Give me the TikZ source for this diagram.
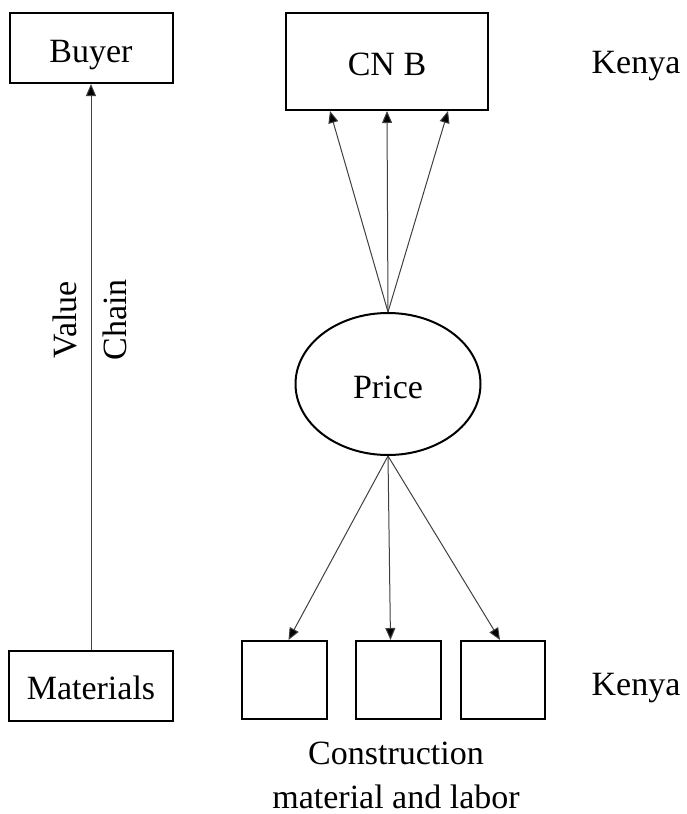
\documentclass[tikz,border=0pt]{standalone}
\usepackage{fontspec}
\setmainfont{Liberation Serif}
\usepackage{tikz}
\usetikzlibrary{shapes.geometric}
\usetikzlibrary{arrows.meta,calc}
\tikzset{box/.style={draw, line width=1pt, inner sep=0pt}}
\tikzset{arrow/.style={line width=0.5pt, draw=black!75, -{Triangle[length=6pt,width=5pt,fill=black]}}}
\tikzset{lbl/.style={inner sep=0pt, font=\fontsize{17}{22}\selectfont}}
\tikzset{boxtext/.style={lbl, text height=14pt, text depth=0pt}}

\begin{document}
\begin{tikzpicture}[x=0.5pt,y=-0.5pt]
\useasboundingbox (0,0) rectangle (686,814);

% value chain side
\node[box, boxtext, minimum width=81.5pt, minimum height=35pt] (buyer) at (91,48) {Buyer};
\node[box, boxtext, text height=13pt, minimum width=82pt, minimum height=35pt] (materials) at (91,686) {Materials};
\draw[arrow] (materials.north) -- (buyer.south);
\node[lbl, rotate=90] (value) at (65,320) {Value};
\node[lbl, rotate=90] (chain) at (115,320) {Chain};

% price side
\node[box, boxtext, text height=13.5pt, minimum width=101pt, minimum height=48.5pt] (cnb) at (387,61.5) {CN B};
\node[draw, ellipse, line width=1pt, boxtext, minimum width=92.5pt, minimum height=71pt] (price) at (388,384) {Price};
\node[box, minimum width=42.5pt, minimum height=39pt] (cm1) at (284.5,680) {};
\node[box, minimum width=42.5pt, minimum height=39pt] (cm2) at (398.5,680) {};
\node[box, minimum width=42pt, minimum height=39pt] (cm3) at (503,680) {};

\draw[arrow] (price.north) -- ($(cnb.south)+(-57,0)$);
\draw[arrow] (price.north) -- (cnb.south);
\draw[arrow] (price.north) -- ($(cnb.south)+(61,0)$);

\draw[arrow] (price.south) -- ($(cm1.north)+(4,0)$);
\draw[arrow] (price.south) -- ($(cm2.north)+(-8,0)$);
\draw[arrow] (price.south) -- ($(cm3.north)+(-3,0)$);

\node[lbl, align=center] (cml) at (396,775) {Construction\\material and labor};
\node[lbl, anchor=base] (kenyatop) at (636,73) {Kenya};
\node[lbl, anchor=base] (kenyabot) at (636,695) {Kenya};
\end{tikzpicture}
\end{document}
